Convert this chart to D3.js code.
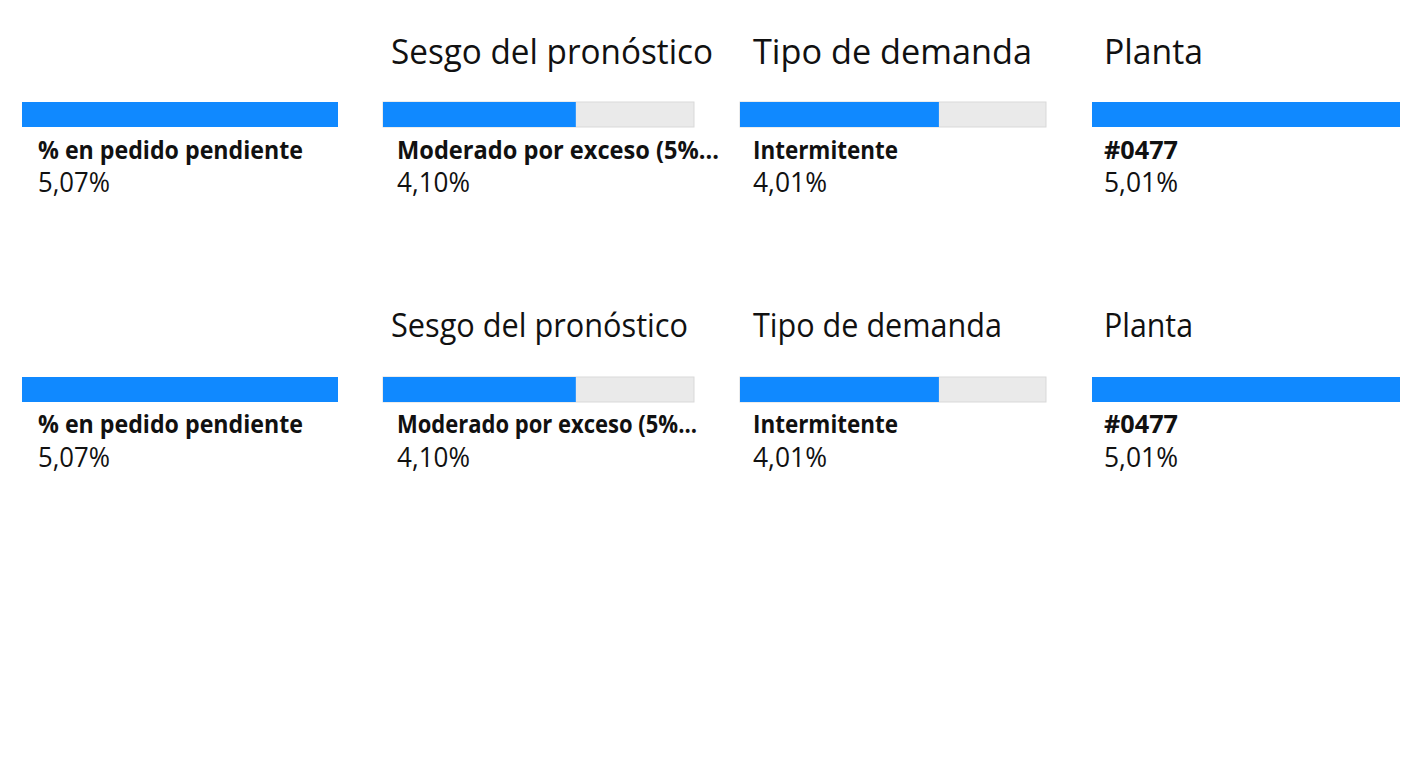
<!DOCTYPE html>
<html>
<head>
<meta charset="utf-8">
<script src="https://cdn.jsdelivr.net/npm/d3@7"></script>
<style>
  html, body { margin: 0; padding: 0; background: #ffffff; }
  svg { display: block; }
  text { font-family: "Segoe UI", "Open Sans", "Noto Sans", sans-serif; fill: #111111; }
</style>
</head>
<body>
<svg id="chart" width="1408" height="768"></svg>
<script>
// ---- data ----
const levelTitles = ["", "Sesgo del pronóstico", "Tipo de demanda", "Planta"];
const nodeLabels = ["% en pedido pendiente", "Moderado por exceso (5%...", "Intermitente", "#0477"];
const nodeValues = [5.07, 4.10, 4.01, 5.01];
const barShare = [1.00, 0.62, 0.65, 1.00];   // filled fraction of each node's bar
const treeRows = ["Árbol 1", "Árbol 2"];

// ---- layout ----
const svg = d3.select("#chart");
const blue = "#1089FF";
const rowOffset = [0, 275];
const barLeft = [22, 383, 740, 1092];
const barRight = [338, 694, 1046, 1400];
const textX = [38, 397, 753, 1104];
const titleX = [0, 391, 753, 1104];
const titleW = [[0, 322, 279, 99], [0, 297, 249, 89]];
const titleSize = [35, 32];
const labelW = [[265, 322, 145, 74], [265, 300, 145, 74]];
const valueW = [72, 73, 74, 74];

const locale = d3.formatLocale({decimal: ",", thousands: ".", grouping: [3], currency: ["", "€"]});
const fmt = v => locale.format(".2f")(v) + "%";

const nodes = nodeLabels.map((lab, i) => ({i, title: levelTitles[i], label: lab, value: nodeValues[i], share: barShare[i]}));

treeRows.forEach((rowName, r) => {
  const g = svg.append("g").attr("transform", `translate(0,${rowOffset[r]})`);
  const ng = g.selectAll("g.node").data(nodes).join("g").attr("class", "node");

  ng.each(function(d) {
    const sel = d3.select(this);
    const x = d3.scaleLinear().domain([0, 1]).range([barLeft[d.i], barRight[d.i]]);
    // title
    if (d.title) {
      sel.append("text")
        .attr("x", titleX[d.i]).attr("y", 64 - (r ? 2 : 0))
        .attr("font-size", titleSize[r])
        .attr("textLength", titleW[r][d.i]).attr("lengthAdjust", "spacingAndGlyphs")
        .text(d.title);
    }
    // track
    if (d.share < 1) {
      sel.append("rect")
        .attr("x", x(0)).attr("y", 102)
        .attr("width", x(1) - x(0)).attr("height", 25)
        .attr("fill", "#EAEAEA").attr("stroke", "#D9D9D9").attr("stroke-width", 1);
    }
    // bar
    sel.append("rect")
      .attr("x", x(0)).attr("y", 102)
      .attr("width", x(d.share) - x(0)).attr("height", 25)
      .attr("fill", blue);
    // label
    sel.append("text")
      .attr("x", textX[d.i]).attr("y", 159 - (r ? 1 : 0))
      .attr("font-size", 25).attr("font-weight", 700)
      .attr("textLength", labelW[r][d.i]).attr("lengthAdjust", "spacingAndGlyphs")
      .text(d.label);
    // value
    sel.append("text")
      .attr("x", textX[d.i]).attr("y", 192)
      .attr("font-size", 27)
      .attr("textLength", valueW[d.i]).attr("lengthAdjust", "spacingAndGlyphs")
      .text(fmt(d.value));
  });
});
</script>
</body>
</html>
